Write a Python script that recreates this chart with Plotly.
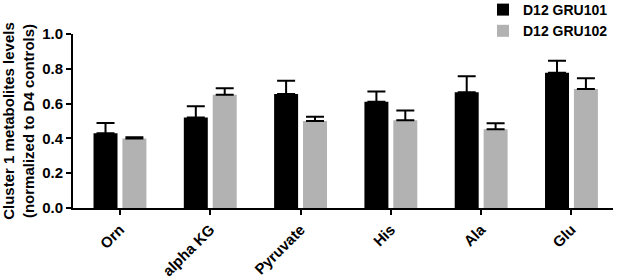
import plotly.graph_objects as go

categories = ["Orn", "alpha KG", "Pyruvate", "His", "Ala", "Glu"]
gru101 = [0.43, 0.52, 0.655, 0.61, 0.665, 0.777]
gru101_err = [0.058, 0.065, 0.077, 0.06, 0.092, 0.069]
gru102 = [0.40, 0.651, 0.50, 0.504, 0.452, 0.684]
gru102_err = [0.007, 0.037, 0.025, 0.057, 0.035, 0.061]
y_ticks = [0.0, 0.2, 0.4, 0.6, 0.8, 1.0]
y_ticklabels = ["0.0", "0.2", "0.4", "0.6", "0.8", "1.0"]

FONT = "Liberation Sans, Arial, sans-serif"

fig = go.Figure()
fig.add_trace(go.Bar(
    x=categories, y=gru101, name="D12 GRU101",
    marker=dict(color="#000000", line=dict(width=0)),
    error_y=dict(type="data", symmetric=False, array=gru101_err,
                 arrayminus=[0]*len(gru101_err), color="#000000",
                 thickness=2, width=9),
))
fig.add_trace(go.Bar(
    x=categories, y=gru102, name="D12 GRU102",
    marker=dict(color="#b2b2b2", line=dict(width=0)),
    error_y=dict(type="data", symmetric=False, array=gru102_err,
                 arrayminus=[0]*len(gru102_err), color="#000000",
                 thickness=2, width=9),
))

fig.update_layout(
    width=617, height=279,
    margin=dict(l=73, r=4, t=34, b=71, autoexpand=False),
    paper_bgcolor="white", plot_bgcolor="white",
    barmode="group", bargap=0.36, bargroupgap=0.17,
    font=dict(family=FONT, color="#000000", weight="bold"),
    showlegend=True,
    legend=dict(x=483/617, xanchor="left", y=1 + 40/174, yanchor="top",
                yref="paper", xref="container",
                font=dict(size=14, family=FONT, weight="bold"),
                bgcolor="rgba(0,0,0,0)", tracegroupgap=0,
                itemwidth=30),
    xaxis=dict(
        range=[-0.52, 5.46], automargin=False,
        showline=True, linecolor="#000000", linewidth=2,
        ticks="outside", ticklen=5, tickwidth=2, tickcolor="#000000",
        tickangle=-45, tickfont=dict(size=15, family=FONT, weight="bold"),
        showgrid=False, zeroline=False,
    ),
    yaxis=dict(
        range=[0, 1.0], automargin=False,
        tickvals=y_ticks, ticktext=y_ticklabels,
        showline=True, linecolor="#000000", linewidth=2,
        ticks="outside", ticklen=5, tickwidth=2, tickcolor="#000000",
        tickfont=dict(size=15, family=FONT, weight="bold"),
        showgrid=False, zeroline=False,
        title=dict(text="Cluster 1 metabolites levels<br>(normalized to D4 controls)",
                   font=dict(size=15, family=FONT, weight="bold"),
                   standoff=8),
    ),
)

fig.write_html("out.html", config={"displayModeBar": False},
               post_script="document.body.style.margin='0';")
